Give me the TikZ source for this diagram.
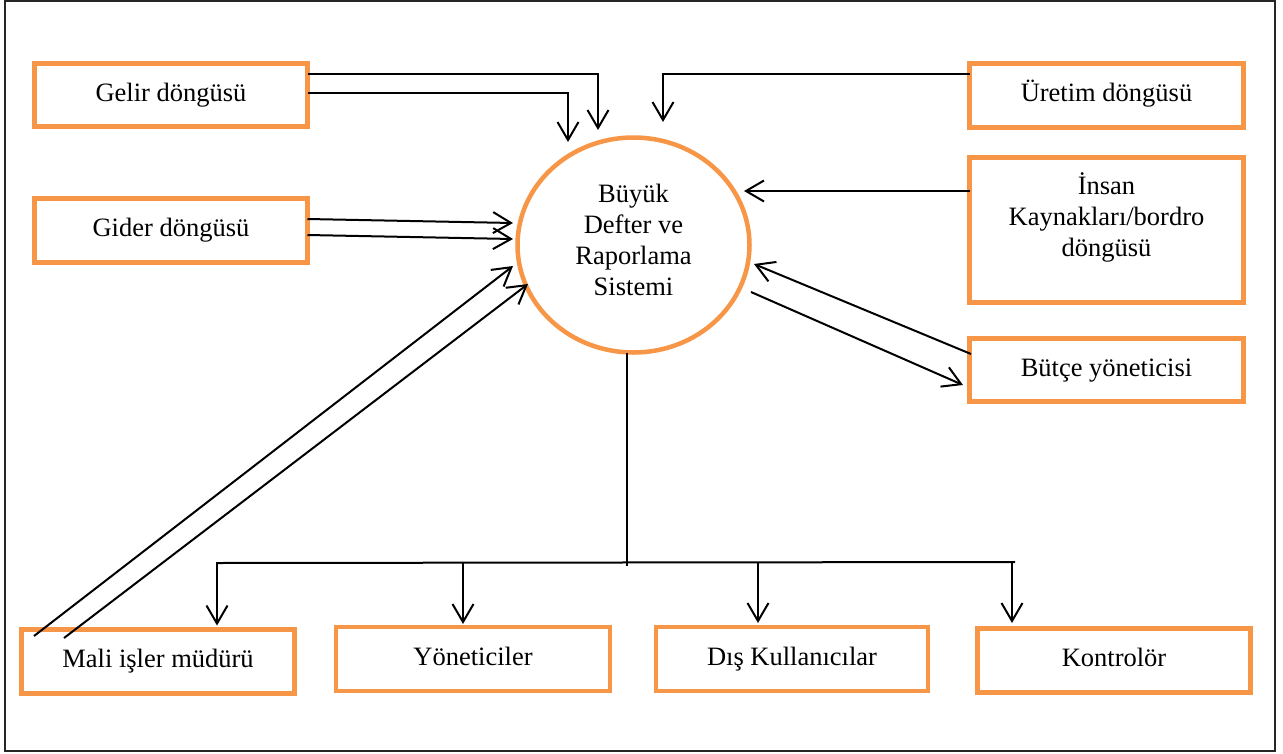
\documentclass[tikz,border=0pt]{standalone}
\usepackage{fontspec}
\setmainfont{Liberation Serif}
\usetikzlibrary{arrows.meta,calc,shapes.geometric}
\definecolor{orng}{HTML}{F79646}
\newcommand\myfont{\fontsize{26.5}{31}\selectfont}
\tikzset{
  obox/.style={draw=orng, line width=4.5pt, inner sep=0pt, outer sep=0pt,
    font=\myfont, text height=18pt, text depth=6pt, align=center},
  conn/.style={line width=2pt, -{Straight Barb[length=18pt,width=21pt]}},
  txt/.style={font=\myfont, align=center, inner sep=0pt}
}
\begin{document}
\begin{tikzpicture}[x=1pt,y=-1pt]
\useasboundingbox (0,0) rectangle (1283,753);
\fill[white] (0,0) rectangle (1283,753);
\draw[line width=1.5pt, black!85] (5,1) rectangle (1275,751);

% boxes
\node[obox, minimum width=273pt, minimum height=63pt] (gelir) at (171,95) {Gelir döngüsü};
\node[obox, minimum width=273pt, minimum height=64pt] (gider) at (171,230.5) {Gider döngüsü};
\node[obox, minimum width=274pt, minimum height=64pt] (uretim) at (1106.5,95.5) {Üretim döngüsü};
\node[obox, minimum width=274pt, minimum height=145pt] (insan) at (1106.5,230) {};
\node[txt] (insantxt) at ($(insan)+(0,-12.5)$) {İnsan\\Kaynakları/bordro\\döngüsü};
\node[obox, minimum width=274pt, minimum height=63pt] (butce) at (1106.5,370) {Bütçe yöneticisi};
\node[obox, minimum width=273pt, minimum height=64pt] (mali) at (158,661.5) {Mali işler müdürü};
\node[obox, minimum width=274pt, minimum height=64pt] (yon) at (473,659) {Yöneticiler};
\node[obox, minimum width=272pt, minimum height=64pt] (dis) at (792,659) {Dış Kullanıcılar};
\node[obox, minimum width=273pt, minimum height=64pt] (kont) at (1114,660.5) {Kontrolör};

% central ellipse
\node[draw=orng, line width=4.5pt, ellipse, minimum width=232pt, minimum height=215pt, inner sep=0pt, outer sep=0pt] (circ) at (633.5,245) {};
\node[txt] (circtxt) at ($(circ)+(0,-5)$) {\fontsize{26.5}{30.7}\selectfont Büyük\\Defter ve\\Raporlama\\Sistemi};

% free ends
\coordinate (g1) at (598,130);
\coordinate (g2) at (568,142);
\coordinate (u1) at (663,122);

% connectors
\draw[conn] ($(gelir.east)+(0,-21)$) -| (g1);
\draw[conn] ($(gelir.east)+(0,-2)$) -| (g2);
\draw[conn] ($(uretim.west)+(0,-21.5)$) -| (u1);
\draw[conn] ($(insan.west)+(0,-39)$) -- ($(circ)+(110.5,-54)$);
\draw[conn] ($(gider.east)+(0,-11.5)$) -- ($(circ)+(-120.5,-22)$);
\draw[conn] ($(gider.east)+(0,4.5)$) -- ($(circ)+(-120.5,-6)$);
\draw[conn] ($(mali.north west)+(12.5,6.5)$) -- ($(circ)+(-120.5,21)$);
\draw[conn] ($(mali.north west)+(42.5,8.5)$) -- ($(circ)+(-105.5,39)$);
\draw[conn] ($(butce.north west)+(1.5,15.5)$) -- ($(circ)+(120.5,19)$);
\draw[conn] ($(circ)+(117.5,47)$) -- ($(butce.west)+(-6.5,15)$);

% distribution bus
\coordinate (busL) at (216,563);
\coordinate (busR) at (1015,562);
\draw[line width=1.5pt] ($(circ.south)+(-6.5,0)$) -- ++(0,213);
\draw[line width=2pt] (busL) -- (busR);
\draw[conn] ($(mali.north)+(59,-66)$) -- ($(mali.north)+(59,-4)$);
\draw[conn] ($(yon.north)+(-10,-64)$) -- ($(yon.north)+(-10,-3)$);
\draw[conn] ($(dis.north)+(-34,-65)$) -- ($(dis.north)+(-34,-4)$);
\draw[conn] ($(kont.north)+(-102,-66.5)$) -- ($(kont.north)+(-102,-5.5)$);
\end{tikzpicture}
\end{document}
